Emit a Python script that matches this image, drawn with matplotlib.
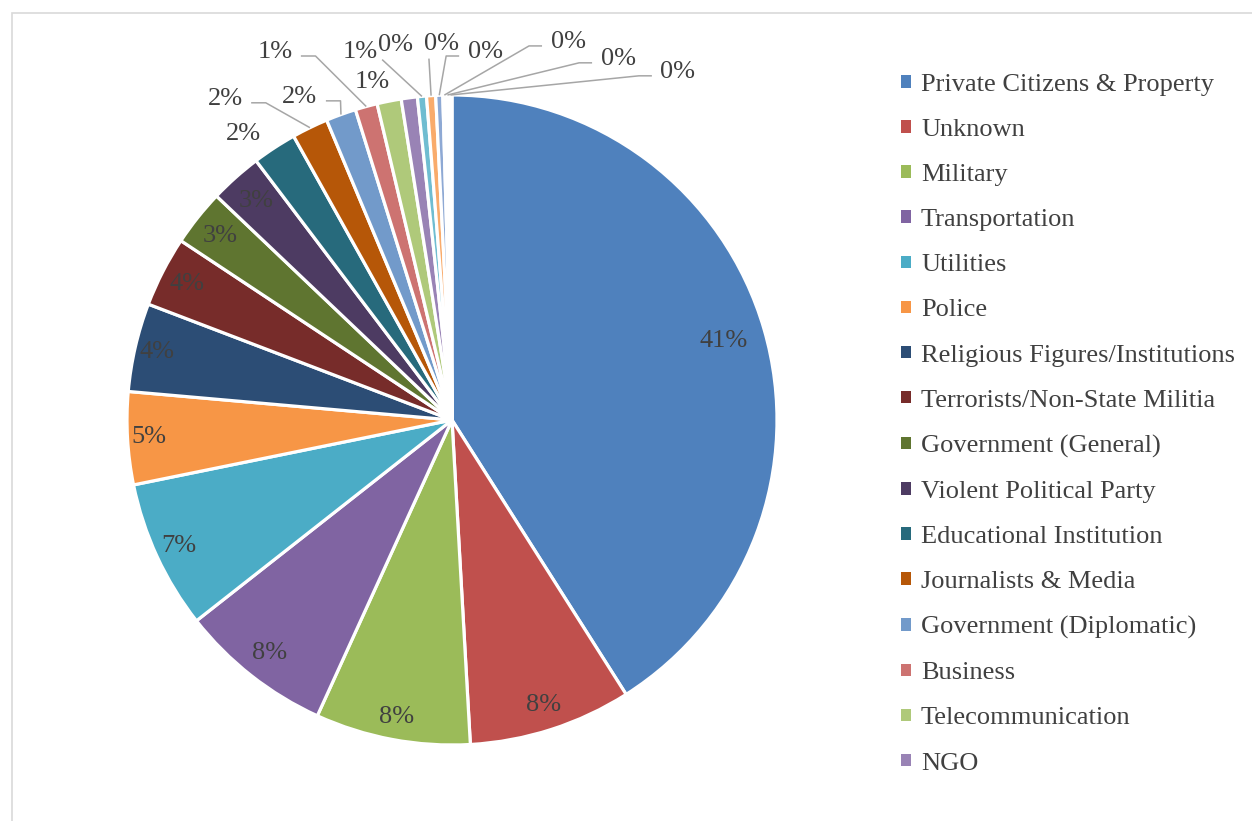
import matplotlib.pyplot as plt
import numpy as np
from matplotlib.patches import Patch, Rectangle

# Target types, share of attacks (%)
categories = ['Private Citizens & Property', 'Unknown', 'Military', 'Transportation',
              'Utilities', 'Police', 'Religious Figures/Institutions',
              'Terrorists/Non-State Militia', 'Government (General)',
              'Violent Political Party', 'Educational Institution',
              'Journalists & Media', 'Government (Diplomatic)', 'Business',
              'Telecommunication', 'NGO', 'Airports & Aircraft', 'Tourists',
              'Maritime', 'Food or Water Supply', 'Other', 'Abortion Related']
shares = [41.0, 8.1, 7.7, 7.6, 7.4, 4.6, 4.4, 3.5, 2.8, 2.6, 2.2, 1.8, 1.5,
          1.1, 1.2, 0.8, 0.45, 0.45, 0.35, 0.15, 0.15, 0.15]
colors = ['#4F81BD', '#C0504D', '#9BBB59', '#8064A2', '#4BACC6', '#F79646',
          '#2C4D75', '#772C2A', '#5F7530', '#4D3B62', '#276A7C', '#B65708',
          '#729ACA', '#CD7371', '#AFC97A', '#9983B5', '#6FBDD1', '#F9AB6B',
          '#8EA9D4', '#E6B9B8', '#D7E4BD', '#CCC1DA']

# number of entries that fit in the legend box
n_legend = 16

# distance of the in-slice labels from the centre (radius units)
inner_r = [0.87, 0.92, 0.93, 0.91, 0.925, 0.935, 0.93, 0.915, 0.91, 0.905]

# label placement for the small slices (radius units from the pie centre)
# style: None = no leader, 'r' = leader leaves right side, 'l' = left side, 'b' = below
outer_pos = {10: (-0.643, 0.880, None), 11: (-0.698, 0.988, 'r'),
             12: (-0.468, 0.994, 'r'), 13: (-0.545, 1.132, 'r'),
             14: (-0.246, 1.040, None), 15: (-0.283, 1.132, None),
             16: (-0.175, 1.154, 'b'), 17: (-0.031, 1.157, 'b'),
             18: (0.102, 1.132, 'l'), 19: (0.357, 1.163, 'l'),
             20: (0.511, 1.111, 'l'), 21: (0.695, 1.071, 'l')}

plt.rcParams['font.family'] = ['Liberation Serif', 'DejaVu Serif']
text_col = '#404040'
line_col = '#A6A6A6'
fs = 19

W, H = 1252, 821
fig = plt.figure(figsize=(W / 100, H / 100), dpi=100)

# chart area frame (runs off the right and bottom edges)
fig.patches.append(Rectangle((12 / W, -0.1), 1.2, 1 - 13 / H + 0.1,
                             transform=fig.transFigure, fill=False,
                             edgecolor='#D9D9D9', linewidth=1.2))

R = 325.0
cx, cy = 452, 420
half = 400
ax = fig.add_axes([(cx - half) / W, (H - cy - half) / H, 2 * half / W, 2 * half / H])

wedges, _ = ax.pie(shares, colors=colors, startangle=90, counterclock=False,
                   wedgeprops=dict(edgecolor='white', linewidth=2.3))
lim = half / R
ax.set_xlim(-lim, lim)
ax.set_ylim(-lim, lim)
ax.set_aspect('equal')
ax.axis('off')

total = sum(shares)
cum = 0.0
for i, v in enumerate(shares):
    mid = 90 - 360 * (cum + v / 2) / total
    cum += v
    ang = np.deg2rad(mid)
    label = f'{v:.0f}%'
    if i not in outer_pos:
        r = inner_r[i]
        ax.text(r * np.cos(ang), r * np.sin(ang), label, ha='center', va='center',
                fontsize=fs, color=text_col)
        continue
    tx, ty, style = outer_pos[i]
    ax.text(tx, ty, label, ha='center', va='center', fontsize=fs, color=text_col)
    if style is None:
        continue
    px, py = 1.0 * np.cos(ang), 1.0 * np.sin(ang)
    if style == 'r':
        sx, sy = tx + 0.08, ty - 0.012
        xs, ys = [sx, sx + 0.045, px], [sy, sy, py]
    elif style == 'l':
        sx, sy = tx - 0.08, ty - 0.012
        xs, ys = [sx, sx - 0.04, px], [sy, sy, py]
    else:
        sx, sy = tx - 0.04, ty - 0.045
        xs, ys = [sx, px], [sy, py]
    ax.plot(xs, ys, color=line_col, linewidth=1.1, solid_capstyle='butt')

handles = [Patch(facecolor=colors[i], edgecolor='none') for i in range(n_legend)]
fig.legend(handles, categories[:n_legend], loc='upper left',
           bbox_to_anchor=(901 / W, 1 - 74 / H), frameon=False, fontsize=fs,
           handlelength=0.36, handleheight=0.36, handletextpad=0.4,
           labelspacing=0.875, borderpad=0, borderaxespad=0, labelcolor=text_col)

fig.savefig('out.png', dpi=100)
